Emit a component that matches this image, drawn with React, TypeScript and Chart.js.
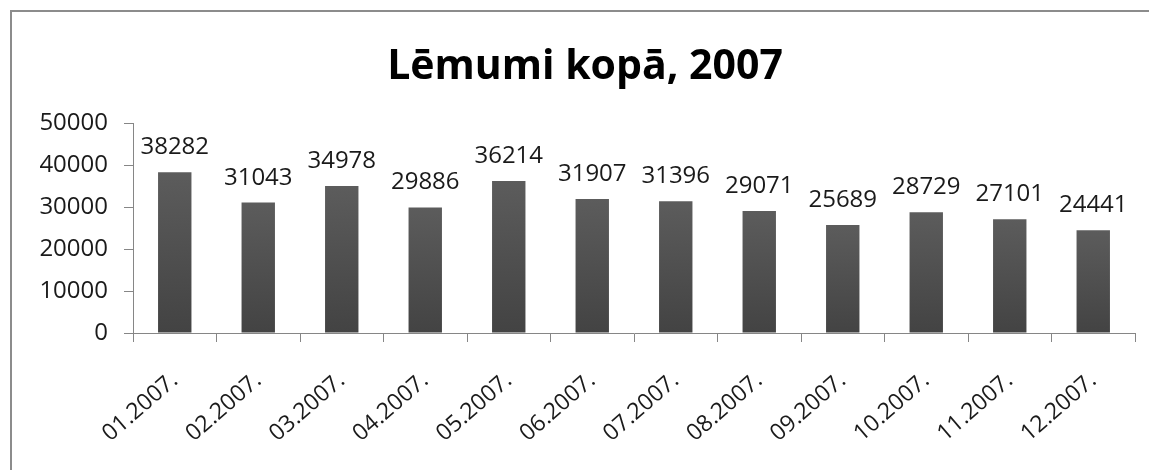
import React, { useEffect, useRef } from "react";
import { Chart, registerables } from "chart.js";

Chart.register(...registerables);

const TITLE = "Lēmumi kopā, 2007";
const CATEGORIES = [
  "01.2007.", "02.2007.", "03.2007.", "04.2007.", "05.2007.", "06.2007.",
  "07.2007.", "08.2007.", "09.2007.", "10.2007.", "11.2007.", "12.2007.",
];
const VALUES = [38282, 31043, 34978, 29886, 36214, 31907, 31396, 29071, 25689, 28729, 27101, 24441];
const Y_MIN = 0;
const Y_MAX = 50000;
const Y_STEP = 10000;

const FONT = "'Open Sans', 'DejaVu Sans', sans-serif";
const TEXT = "#1a1a1a";
const AXIS = "#868686";

const framePlugin = {
  id: "frame",
  beforeDraw(chart: any) {
    const { ctx, width, height } = chart;
    ctx.save();
    ctx.fillStyle = "#ffffff";
    ctx.fillRect(0, 0, width, height);
    ctx.strokeStyle = "#8c8c8c";
    ctx.lineWidth = 2;
    ctx.beginPath();
    ctx.moveTo(11, height + 5);
    ctx.lineTo(11, 11);
    ctx.lineTo(width + 5, 11);
    ctx.stroke();
    ctx.restore();
  },
};

const labelPlugin = {
  id: "barLabels",
  afterDatasetsDraw(chart: any) {
    const { ctx } = chart;
    const meta = chart.getDatasetMeta(0);
    ctx.save();
    ctx.font = `24px ${FONT}`;
    ctx.fillStyle = TEXT;
    ctx.textAlign = "center";
    ctx.textBaseline = "alphabetic";
    meta.data.forEach((bar: any, i: number) => {
      ctx.fillText(String(VALUES[i]), bar.x, bar.y - 18);
    });
    ctx.restore();
  },
};

export default function App() {
  const ref = useRef<HTMLCanvasElement | null>(null);

  useEffect(() => {
    if (!ref.current) return;
    const chart = new Chart(ref.current, {
      type: "bar",
      data: {
        labels: CATEGORIES,
        datasets: [
          {
            data: VALUES,
            backgroundColor: (c: any) => {
              const chart = c.chart;
              if (c.type !== "data" || !chart.chartArea) return "#4f4f4f";
              const ys = chart.scales.y;
              const top = ys.getPixelForValue(c.raw);
              const bottom = ys.getPixelForValue(0);
              const g = chart.ctx.createLinearGradient(0, top, 0, bottom);
              g.addColorStop(0, "#5c5c5c");
              g.addColorStop(1, "#434343");
              return g;
            },
            borderWidth: 0,
            barPercentage: 0.4,
            categoryPercentage: 1,
          },
        ],
      },
      options: {
        responsive: false,
        animation: false,
        layout: { padding: { top: 0, left: 35, right: 14, bottom: 0 } },
        plugins: {
          legend: { display: false },
          tooltip: { enabled: false },
          title: {
            display: true,
            text: TITLE,
            color: "#000000",
            font: { family: FONT, size: 41, weight: "bold", lineHeight: 1.2 },
            padding: { top: 42.5, bottom: 31.3 },
          },
        },
        scales: {
          x: {
            afterFit: (s: any) => { s.height = 137; },
            grid: { display: true, drawOnChartArea: false, drawTicks: true, tickLength: 9, color: AXIS, offset: true },
            border: { display: true, color: AXIS, width: 1 },
            ticks: {
              color: TEXT,
              font: { family: FONT, size: 23 },
              minRotation: 41,
              maxRotation: 41,
              padding: 25,
              autoSkip: false,
            },
          },
          y: {
            min: Y_MIN,
            max: Y_MAX,
            afterFit: (s: any) => { s.width = 98; },
            grid: { display: true, drawOnChartArea: false, drawTicks: true, tickLength: 9, color: AXIS },
            border: { display: true, color: AXIS, width: 1 },
            ticks: {
              stepSize: Y_STEP,
              color: TEXT,
              font: { family: FONT, size: 24 },
              padding: 16,
              callback: (v: any) => String(v),
            },
          },
        },
      },
      plugins: [framePlugin, labelPlugin],
    });
    return () => chart.destroy();
  }, []);

  return (
    <div style={{ position: "fixed", left: 0, top: 0, width: 1149, height: 470, background: "#fff" }}>
      <canvas ref={ref} width={1149} height={470} style={{ display: "block" }} />
    </div>
  );
}
